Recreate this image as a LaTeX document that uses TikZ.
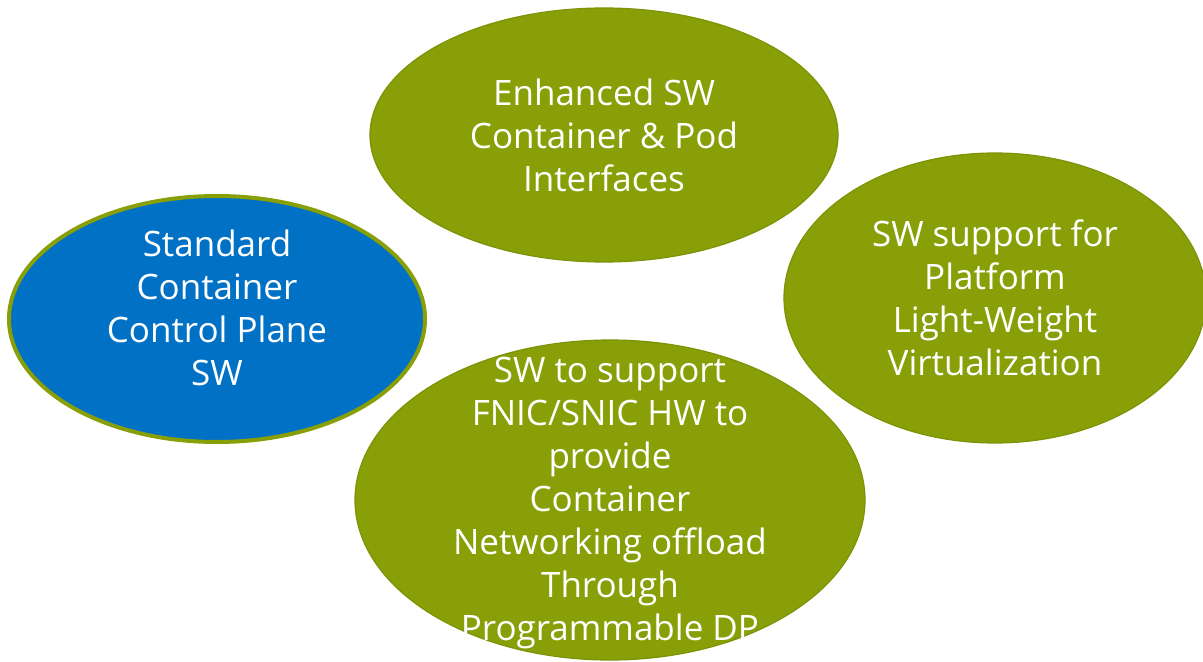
\documentclass[tikz,border=0pt]{standalone}
\usepackage{fontspec}
\setmainfont{Open Sans}
\usepackage{tikz}
\usetikzlibrary{positioning,shapes.geometric}
\definecolor{olive}{RGB}{137,159,7}
\definecolor{olivedark}{RGB}{125,146,6}
\definecolor{intelblue}{RGB}{0,113,197}

\begin{document}
\begin{tikzpicture}[x=0.5pt, y=-0.5pt,
bubble/.style={ellipse, fill=olive, draw=olivedark, line width=0.6pt, inner sep=0pt},
txt/.style={text=white, align=center, font=\fontsize{17.5pt}{21.5pt}\selectfont}]
\useasboundingbox (0,0) rectangle (1203,662);
% four ellipses
\node[bubble, minimum width=234pt, minimum height=127pt] (iface) at (604,135) {};
\node[bubble, fill=intelblue, draw=olive, line width=2pt, minimum width=208pt, minimum height=123pt] (ctrl) at (217,319) {};
\node[bubble, minimum width=211pt, minimum height=145pt] (virt) at (995,298) {};
\node[bubble, minimum width=255pt, minimum height=160pt] (nic) at (610,500) {};
% texts
\node[txt] (ifacetxt) at (iface.center) {Enhanced SW\\Container \& Pod\\Interfaces};
\node[txt, yshift=5.75pt] (ctrltxt) at (ctrl.center) {Standard\\Container\\Control Plane\\SW};
\node[txt] (virttxt) at (virt.center) {SW support for\\Platform\\Light-Weight\\Virtualization};
\node[txt, yshift=-1.5pt] (nictxt) at (nic.center) {SW to support\\FNIC/SNIC HW to\\provide\\Container\\Networking offload\\Through\\Programmable DP};
\end{tikzpicture}
\end{document}
